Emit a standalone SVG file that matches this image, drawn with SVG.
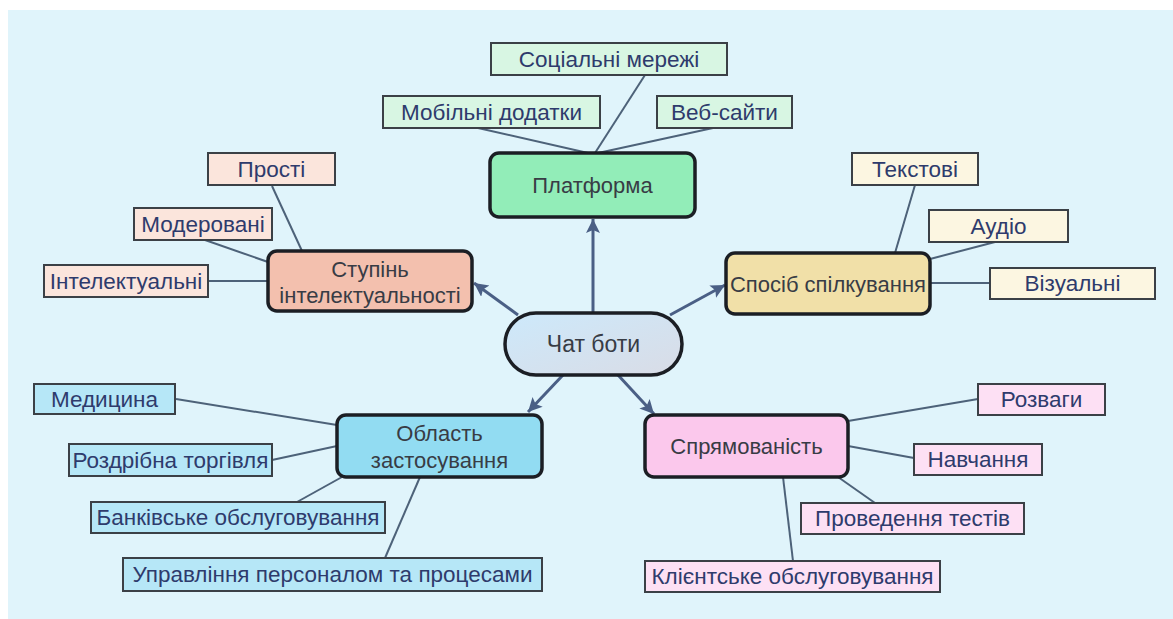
<svg xmlns="http://www.w3.org/2000/svg" width="1173" height="619" viewBox="0 0 1173 619">
  <defs>
    <linearGradient id="pillFill" x1="0" y1="0" x2="1" y2="1">
      <stop offset="0" stop-color="#cde9fb"/>
      <stop offset="1" stop-color="#d9dce6"/>
    </linearGradient>
    <marker id="arrow" markerUnits="userSpaceOnUse" markerWidth="16" markerHeight="16" refX="14" refY="7" orient="auto">
      <path d="M0,0 L14,7 L0,14 L3,7 Z" fill="#4a5f85"/>
    </marker>
    <style>
      .bg { fill: #e0f4fb; }
      .link { stroke: #4d6279; stroke-width: 2; fill: none; }
      .arrowline { stroke: #4a5f85; stroke-width: 3; fill: none; marker-end: url(#arrow); }
      .main { stroke: #1b1e24; stroke-width: 3.5; }
      .leaf { stroke: #3b4046; stroke-width: 2; }
      .mainText { font-family: "Liberation Sans", Arial, sans-serif; font-size: 22px; fill: #383c45; text-anchor: middle; dominant-baseline: central; }
      .leafText { font-family: "Liberation Sans", Arial, sans-serif; font-size: 22.5px; fill: #2e3b6c; text-anchor: middle; dominant-baseline: central; }
      .green { fill: #92edb8; } .greenL { fill: #d8f6e3; }
      .salmon { fill: #f3c0ae; } .salmonL { fill: #fbe5dc; }
      .khaki { fill: #f1e0a8; } .khakiL { fill: #fcf6e1; }
      .sky { fill: #92dcf2; } .skyL { fill: #b6e7f7; }
      .pink { fill: #fbc8ec; } .pinkL { fill: #fde0f4; }
    </style>
  </defs>

  <rect class="bg" x="8" y="10" width="1165" height="609"/>

  <!-- connectors -->
  <g id="connectors">
    <!-- platform branches -->
    <line class="link" x1="478" y1="128" x2="588" y2="153"/>
    <line class="link" x1="645" y1="75" x2="595" y2="153"/>
    <line class="link" x1="713" y1="128" x2="598" y2="153"/>
    <!-- intelligence level branches -->
    <line class="link" x1="272" y1="186" x2="302" y2="251"/>
    <line class="link" x1="205" y1="240" x2="268" y2="262"/>
    <line class="link" x1="208" y1="281" x2="268" y2="281"/>
    <!-- communication mode branches -->
    <line class="link" x1="915" y1="185" x2="895" y2="253"/>
    <line class="link" x1="995" y1="242" x2="930" y2="259"/>
    <line class="link" x1="930" y1="283" x2="990" y2="283"/>
    <!-- application area branches -->
    <line class="link" x1="176" y1="399" x2="337" y2="425"/>
    <line class="link" x1="272" y1="460" x2="337" y2="446"/>
    <line class="link" x1="297" y1="502" x2="342" y2="477"/>
    <line class="link" x1="420" y1="477" x2="385" y2="558"/>
    <!-- orientation branches -->
    <line class="link" x1="848" y1="421" x2="978" y2="399"/>
    <line class="link" x1="848" y1="446" x2="914" y2="458"/>
    <line class="link" x1="838" y1="477" x2="875" y2="503"/>
    <line class="link" x1="783" y1="477" x2="793" y2="561"/>
    <!-- arrows from the centre -->
    <line class="arrowline" x1="593" y1="313" x2="593" y2="219"/>
    <line class="arrowline" x1="518" y1="315" x2="474" y2="283"/>
    <line class="arrowline" x1="670" y1="315" x2="725" y2="285"/>
    <line class="arrowline" x1="563" y1="375" x2="528" y2="412"/>
    <line class="arrowline" x1="618" y1="375" x2="654" y2="414"/>
  </g>

  <!-- centre -->
  <g id="chatbots">
    <rect class="main" x="505" y="313" width="177" height="62" rx="31" fill="url(#pillFill)"/>
    <text class="mainText" x="593.5" y="344" style="font-size:23px">Чат боти</text>
  </g>

  <!-- platform -->
  <g id="platform">
    <rect class="main green" x="490" y="153" width="205" height="64" rx="9"/>
    <text class="mainText" x="592.5" y="185">Платформа</text>
  </g>
  <g id="social">
    <rect class="leaf greenL" x="491" y="43" width="236" height="32"/>
    <text class="leafText" x="609" y="59">Соціальні мережі</text>
  </g>
  <g id="mobile">
    <rect class="leaf greenL" x="383" y="96" width="217" height="32"/>
    <text class="leafText" x="491.5" y="112">Мобільні додатки</text>
  </g>
  <g id="web">
    <rect class="leaf greenL" x="657" y="96" width="135" height="32"/>
    <text class="leafText" x="724.5" y="112">Веб-сайти</text>
  </g>

  <!-- intelligence level -->
  <g id="intelligence">
    <rect class="main salmon" x="268" y="251" width="204" height="60" rx="9"/>
    <text class="mainText" x="370" y="269">Ступінь</text>
    <text class="mainText" x="370" y="295">інтелектуальності</text>
  </g>
  <g id="simple">
    <rect class="leaf salmonL" x="208" y="153" width="127" height="32"/>
    <text class="leafText" x="271.5" y="169">Прості</text>
  </g>
  <g id="moderated">
    <rect class="leaf salmonL" x="134" y="208" width="138" height="32"/>
    <text class="leafText" x="203" y="224">Модеровані</text>
  </g>
  <g id="intelligent">
    <rect class="leaf salmonL" x="44" y="265" width="164" height="32"/>
    <text class="leafText" x="126" y="281">Інтелектуальні</text>
  </g>

  <!-- communication mode -->
  <g id="communication">
    <rect class="main khaki" x="726" y="253" width="204" height="61" rx="9"/>
    <text class="mainText" x="828" y="284">Спосіб спілкування</text>
  </g>
  <g id="text-mode">
    <rect class="leaf khakiL" x="852" y="153" width="126" height="32"/>
    <text class="leafText" x="915" y="169">Текстові</text>
  </g>
  <g id="audio">
    <rect class="leaf khakiL" x="929" y="210" width="139" height="32"/>
    <text class="leafText" x="998.5" y="226">Аудіо</text>
  </g>
  <g id="visual">
    <rect class="leaf khakiL" x="990" y="268" width="165" height="31"/>
    <text class="leafText" x="1072.5" y="283.5">Візуальні</text>
  </g>

  <!-- application area -->
  <g id="application">
    <rect class="main sky" x="337" y="415" width="205" height="62" rx="9"/>
    <text class="mainText" x="439.5" y="433">Область</text>
    <text class="mainText" x="439.5" y="460">застосування</text>
  </g>
  <g id="medicine">
    <rect class="leaf skyL" x="34" y="384" width="141" height="30"/>
    <text class="leafText" x="104.5" y="399">Медицина</text>
  </g>
  <g id="retail">
    <rect class="leaf skyL" x="69" y="444" width="203" height="32"/>
    <text class="leafText" x="170.5" y="460">Роздрібна торгівля</text>
  </g>
  <g id="banking">
    <rect class="leaf skyL" x="91" y="502" width="294" height="31"/>
    <text class="leafText" x="238" y="517.5">Банківське обслуговування</text>
  </g>
  <g id="hr">
    <rect class="leaf skyL" x="123" y="558" width="419" height="33"/>
    <text class="leafText" x="332.5" y="574.5">Управління персоналом та процесами</text>
  </g>

  <!-- orientation -->
  <g id="orientation">
    <rect class="main pink" x="645" y="415" width="203" height="62" rx="9"/>
    <text class="mainText" x="746.5" y="446">Спрямованість</text>
  </g>
  <g id="entertainment">
    <rect class="leaf pinkL" x="978" y="384" width="127" height="31"/>
    <text class="leafText" x="1041.5" y="399.5">Розваги</text>
  </g>
  <g id="learning">
    <rect class="leaf pinkL" x="914" y="444" width="128" height="31"/>
    <text class="leafText" x="978" y="459.5">Навчання</text>
  </g>
  <g id="testing">
    <rect class="leaf pinkL" x="801" y="503" width="223" height="31"/>
    <text class="leafText" x="912.5" y="518.5">Проведення тестів</text>
  </g>
  <g id="customer">
    <rect class="leaf pinkL" x="645" y="561" width="295" height="31"/>
    <text class="leafText" x="792.5" y="576.5">Клієнтське обслуговування</text>
  </g>
</svg>
